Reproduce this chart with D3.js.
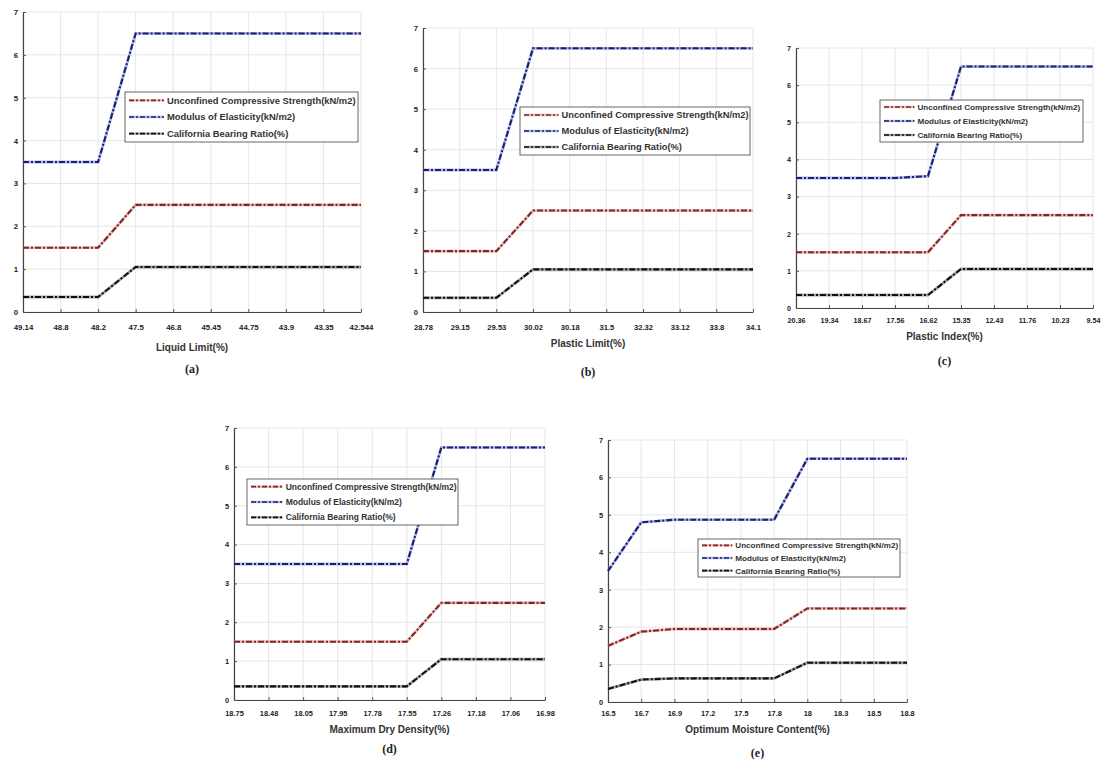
<!DOCTYPE html>
<html><head><meta charset="utf-8">
<script src="https://cdn.jsdelivr.net/npm/d3@7"></script>
<style>body{margin:0;background:#fff;} svg{display:block;}</style>
</head><body>
<svg id="c" width="1102" height="759"></svg>
<script>
// ---- data ----
const seriesNames = ["Unconfined Compressive Strength(kN/m2)", "Modulus of Elasticity(kN/m2)", "California Bearing Ratio(%)"];
const yTicks = [0,1,2,3,4,5,6,7];

const liquidLimit = ["49.14","48.8","48.2","47.5","46.8","45.45","44.75","43.9","43.35","42.544"];
const ucsA = [1.5,1.5,1.5,2.5,2.5,2.5,2.5,2.5,2.5,2.5];
const modA = [3.5,3.5,3.5,6.5,6.5,6.5,6.5,6.5,6.5,6.5];
const cbrA = [0.35,0.35,0.35,1.05,1.05,1.05,1.05,1.05,1.05,1.05];

const plasticLimit = ["28.78","29.15","29.53","30.02","30.18","31.5","32.32","33.12","33.8","34.1"];
const ucsB = [1.5,1.5,1.5,2.5,2.5,2.5,2.5,2.5,2.5,2.5];
const modB = [3.5,3.5,3.5,6.5,6.5,6.5,6.5,6.5,6.5,6.5];
const cbrB = [0.35,0.35,0.35,1.05,1.05,1.05,1.05,1.05,1.05,1.05];

const plasticIndex = ["20.36","19.34","18.67","17.56","16.62","15.35","12.43","11.76","10.23","9.54"];
const ucsC = [1.5,1.5,1.5,1.5,1.5,2.5,2.5,2.5,2.5,2.5];
const modC = [3.5,3.5,3.5,3.5,3.55,6.5,6.5,6.5,6.5,6.5];
const cbrC = [0.35,0.35,0.35,0.35,0.35,1.05,1.05,1.05,1.05,1.05];

const maxDryDensity = ["18.75","18.48","18.05","17.95","17.78","17.55","17.26","17.18","17.06","16.98"];
const ucsD = [1.5,1.5,1.5,1.5,1.5,1.5,2.5,2.5,2.5,2.5];
const modD = [3.5,3.5,3.5,3.5,3.5,3.5,6.5,6.5,6.5,6.5];
const cbrD = [0.35,0.35,0.35,0.35,0.35,0.35,1.05,1.05,1.05,1.05];

const omc = ["16.5","16.7","16.9","17.2","17.5","17.8","18","18.3","18.5","18.8"];
const ucsE = [1.5,1.88,1.95,1.95,1.95,1.95,2.5,2.5,2.5,2.5];
const modE = [3.5,4.8,4.87,4.87,4.87,4.87,6.5,6.5,6.5,6.5];
const cbrE = [0.35,0.6,0.63,0.63,0.63,0.63,1.05,1.05,1.05,1.05];

const xTitles = ["Liquid Limit(%)","Plastic Limit(%)","Plastic Index(%)","Maximum Dry Density(%)","Optimum Moisture Content(%)"];
const panelLetters = ["(a)","(b)","(c)","(d)","(e)"];

// ---- layout (positions only) ----
const panels = [
  {cats: liquidLimit, s:[ucsA,modA,cbrA], x0:23, x1:361, yTop:12, yBot:312, lab:327, title:347, letter:369, leg:[125,92,358,142], fs:9.4, tfs:7.8},
  {cats: plasticLimit, s:[ucsB,modB,cbrB], x0:423, x1:753, yTop:28, yBot:312, lab:327, title:343, letter:372, leg:[520,107,750,155], fs:9.3, tfs:7.6},
  {cats: plasticIndex, s:[ucsC,modC,cbrC], x0:796, x1:1093, yTop:48, yBot:308, lab:320, title:336, letter:361, leg:[880,100,1083,142], fs:8.1, tfs:7.2},
  {cats: maxDryDensity, s:[ucsD,modD,cbrD], x0:234, x1:545, yTop:428, yBot:700, lab:713, title:729, letter:749, leg:[247,479,458,525], fs:8.5, tfs:7.4},
  {cats: omc, s:[ucsE,modE,cbrE], x0:608, x1:907, yTop:440, yBot:702, lab:713, title:729, letter:753, leg:[698,539,900,577], fs:8.1, tfs:7.4}
];
const under = ["#e87a7a","#6f7fd8","#555"];
const over = ["#7a2a2a","#1b1f6e","#111"];
const font = "'Liberation Sans', Arial, sans-serif";

const svg = d3.select("#c");
panels.forEach((p,i)=>{
  const g = svg.append("g");
  const x = d3.scalePoint().domain(p.cats).range([p.x0,p.x1]);
  const y = d3.scaleLinear().domain([0,7]).range([p.yBot,p.yTop]);
  // grid
  g.selectAll(".vg").data(p.cats).join("line")
    .attr("x1",d=>x(d)).attr("x2",d=>x(d)).attr("y1",p.yTop).attr("y2",p.yBot)
    .attr("stroke","#e6e6e6").attr("stroke-width",1);
  g.selectAll(".hg").data(yTicks).join("line")
    .attr("x1",p.x0).attr("x2",p.x1).attr("y1",d=>y(d)).attr("y2",d=>y(d))
    .attr("stroke","#e6e6e6").attr("stroke-width",1);
  // axes
  const xa = g.append("g").attr("transform",`translate(0,${p.yBot})`)
    .call(d3.axisBottom(x).tickSizeInner(-3).tickSizeOuter(0).tickPadding(0));
  xa.select(".domain").attr("stroke","#444").attr("stroke-width",1.2);
  xa.selectAll(".tick line").attr("stroke","#555");
  xa.selectAll(".tick text").attr("y",p.lab-p.yBot).attr("dy","0.35em")
    .attr("font-family",font).attr("font-weight","bold").attr("font-size",p.tfs).attr("fill","#222");
  const ya = g.append("g").attr("transform",`translate(${p.x0},0)`)
    .call(d3.axisLeft(y).tickValues(yTicks).tickFormat(d3.format("d")).tickSizeInner(-3).tickSizeOuter(0).tickPadding(5));
  ya.select(".domain").attr("stroke","#444").attr("stroke-width",1.2);
  ya.selectAll(".tick line").attr("stroke","#555");
  ya.selectAll(".tick text").attr("font-family",font).attr("font-weight","bold").attr("font-size",p.tfs).attr("fill","#222");
  // lines
  const line = d3.line().x((d,k)=>x(p.cats[k])).y(d=>y(d));
  p.s.forEach((vals,k)=>{
    g.append("path").datum(vals).attr("d",line).attr("fill","none")
      .attr("stroke",under[k]).attr("stroke-width",2.8).attr("opacity",0.55);
    g.append("path").datum(vals).attr("d",line).attr("fill","none")
      .attr("stroke",over[k]).attr("stroke-width",2.1).attr("stroke-dasharray","6,2,2,2");
  });
  // titles
  g.append("text").attr("x",(p.x0+p.x1)/2).attr("y",p.title).attr("dy","0.35em").attr("text-anchor","middle")
    .attr("font-family",font).attr("font-weight","bold").attr("font-size",10).attr("fill","#333").text(xTitles[i]);
  g.append("text").attr("x",(p.x0+p.x1)/2).attr("y",p.letter).attr("dy","0.35em").attr("text-anchor","middle")
    .attr("font-family","'Liberation Serif', 'Times New Roman', serif").attr("font-weight","bold").attr("font-size",12).attr("fill","#222").text(panelLetters[i]);
  // legend
  const [lx0,ly0,lx1,ly1] = p.leg;
  g.append("rect").attr("x",lx0).attr("y",ly0).attr("width",lx1-lx0).attr("height",ly1-ly0)
    .attr("fill","#fff").attr("stroke","#666").attr("stroke-width",1);
  const rowH = (ly1-ly0)/3;
  seriesNames.forEach((nm,k)=>{
    const yy = ly0 + rowH*(k+0.5);
    const sampleW = (lx1-lx0)*0.15;
    g.append("line").attr("x1",lx0+4).attr("x2",lx0+4+sampleW).attr("y1",yy).attr("y2",yy)
      .attr("stroke",under[k]).attr("stroke-width",2.4).attr("opacity",0.55);
    g.append("line").attr("x1",lx0+4).attr("x2",lx0+4+sampleW).attr("y1",yy).attr("y2",yy)
      .attr("stroke",over[k]).attr("stroke-width",1.6).attr("stroke-dasharray","5,2,2,2");
    g.append("text").attr("x",lx0+7+sampleW).attr("y",yy).attr("dy","0.35em")
      .attr("font-family",font).attr("font-weight","bold").attr("font-size",p.fs).attr("fill","#333").text(nm);
  });
});
</script>
</body></html>
